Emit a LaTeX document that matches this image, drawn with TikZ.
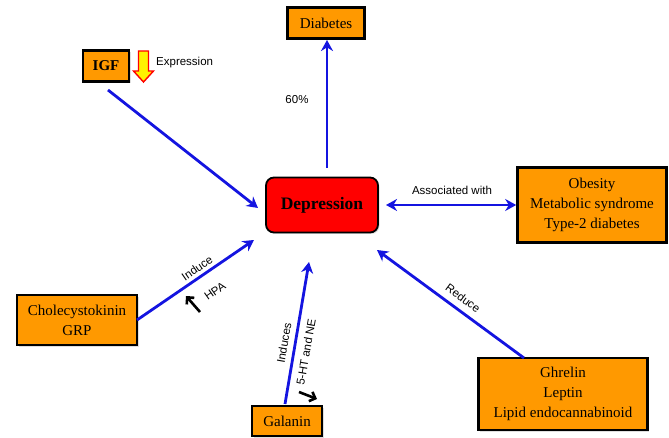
\documentclass[tikz,border=0pt]{standalone}
\usepackage{fontspec}
\setmainfont{Liberation Serif}
\setsansfont{Liberation Sans}
\usetikzlibrary{arrows.meta,shadows}
\definecolor{boxorange}{HTML}{FF9900}
\definecolor{linkblue}{HTML}{1414E0}
\definecolor{deprred}{HTML}{FF0000}
\tikzset{
  factor/.style={draw=black, line width=2.6pt, fill=boxorange, align=center,
    font=\fontsize{15}{20}\selectfont, inner sep=0pt,
    drop shadow={opacity=0.25, shadow xshift=1.5pt, shadow yshift=-1.5pt}},
  link/.style={draw=linkblue, line width=2.8pt, -{Stealth[length=11pt,width=12pt]}},
  biglink/.style={draw=linkblue, line width=2.8pt, {Stealth[length=11pt,width=12pt]}-{Stealth[length=11pt,width=12pt]}},
  lbl/.style={font=\sffamily\fontsize{11.5}{14}\selectfont, inner sep=1pt},
  trend/.style={draw=black, line width=2.6pt, -{Straight Barb[length=5pt,width=10pt]}},
}
\begin{document}
\begin{tikzpicture}[x=1pt,y=-1pt]
\useasboundingbox (0,0) rectangle (669,438);

% central node
\node[draw=black, line width=1.8pt, fill=deprred, rounded corners=8pt,
  minimum width=112pt, minimum height=55pt,
  drop shadow={opacity=0.25, shadow xshift=1.5pt, shadow yshift=-1.5pt},
  font=\bfseries\fontsize{17.5}{20}\selectfont] (dep) at (322,205) {Depression};

% surrounding factors
\node[factor, minimum width=77pt, minimum height=31pt] (diab) at (326,23) {Diabetes};
\node[factor, minimum width=46pt, minimum height=31pt, font=\bfseries\fontsize{15}{18}\selectfont] (igf) at (106,66) {IGF};
\node[factor, minimum width=149pt, minimum height=75pt] (obes) at (592,205) {Obesity\\Metabolic syndrome\\Type-2 diabetes};
\node[factor, minimum width=120pt, minimum height=50pt] (cck) at (77,320) {Cholecystokinin\\GRP};
\node[factor, minimum width=70pt, minimum height=30pt] (gal) at (287,421) {Galanin};
\node[factor, minimum width=169pt, minimum height=72pt] (ghr) at (563,394) {Ghrelin\\Leptin\\Lipid endocannabinoid};

% decreased expression marker
\filldraw[draw=red, fill=yellow, line width=1.4pt]
  (138.5,51) -- (148.5,51) -- (148.5,71) -- (153.5,71) -- (143.5,82) -- (133.5,71) -- (138.5,71) -- cycle;
\node[lbl, anchor=west] (expr) at (155,63) {Expression};

% connector end points
\coordinate (depTop) at (327,168);
\coordinate (diabEnd) at (327,40);
\coordinate (igfStart) at (108,90);
\coordinate (igfEnd) at (258,208);
\coordinate (assocL) at (386,205);
\coordinate (cckStart) at (137,320);
\coordinate (cckEnd) at (254,240);
\coordinate (galStart) at (285,404);
\coordinate (galEnd) at (309,262);
\coordinate (ghrStart) at (524,358);
\coordinate (ghrEnd) at (377,250);

\draw[link] (depTop) -- (diabEnd);
\node[lbl] (pct) at (297,100) {60\%};
\draw[link] (igfStart) -- (igfEnd);
\draw[biglink] (assocL) -- (obes.west);
\node[lbl] (assoc) at (452,190) {Associated with};
\draw[link] (cckStart) -- (cckEnd);
\node[lbl, rotate=34.6] (ind) at (197,268) {Induce};
\draw[link] (galStart) -- (galEnd);
\node[lbl, rotate=80] (inds) at (284,343) {Induces};
\node[lbl, rotate=80] (ht) at (306,352) {5-HT and NE};
\draw[link] (ghrStart) -- (ghrEnd);
\node[lbl, rotate=-36.5] (red) at (463,298) {Reduce};

% HPA and 5-HT/NE trend arrows
\coordinate (hpaTail) at (200,312);
\coordinate (hpaTip) at (186,296);
\draw[trend] (hpaTail) -- (hpaTip);
\node[lbl, rotate=35] (hpa) at (215,291) {HPA};
\coordinate (htTail) at (299,392);
\coordinate (htTip) at (317,399);
\draw[trend] (htTail) -- (htTip);
\end{tikzpicture}
\end{document}
